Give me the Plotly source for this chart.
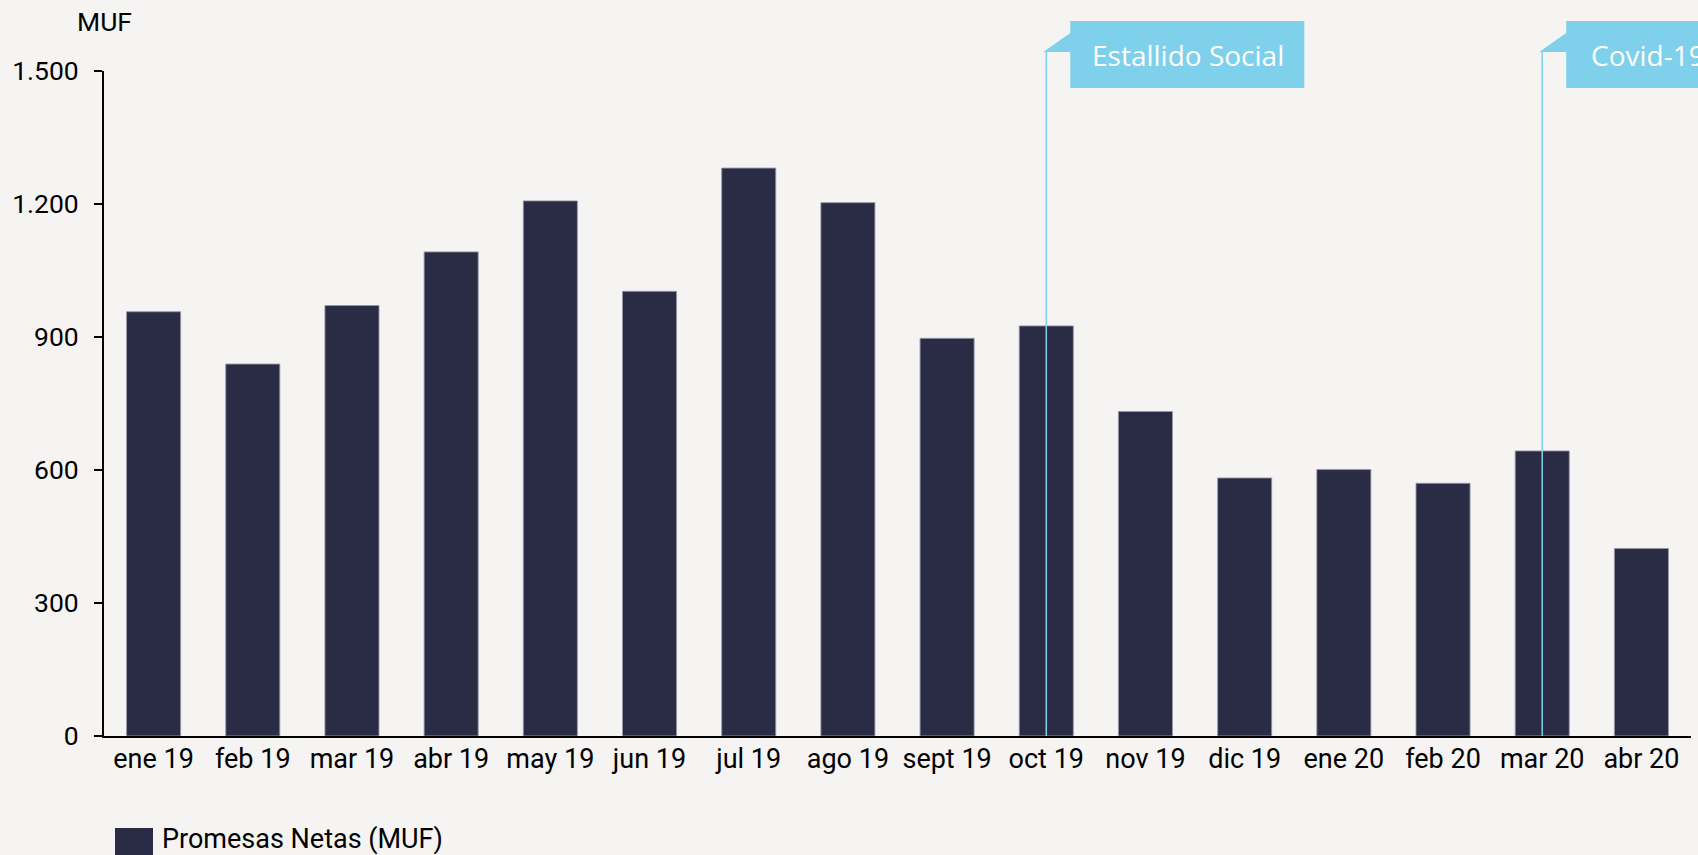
import plotly.graph_objects as go

# Monthly net sales promises, in thousands of UF
months = ["ene 19", "feb 19", "mar 19", "abr 19", "may 19", "jun 19", "jul 19", "ago 19",
          "sept 19", "oct 19", "nov 19", "dic 19", "ene 20", "feb 20", "mar 20", "abr 20"]
promesas = [957, 839, 971, 1092, 1207, 1003, 1281, 1203,
            897, 925, 732, 582, 601, 570, 643, 423]

# Events marked on the timeline
event_months = ["oct 19", "mar 20"]
event_labels = ["Estallido Social", "Covid-19"]

y_ticks = [0, 300, 600, 900, 1200, 1500]

W, H = 1698, 855
M_L, M_R, M_T, M_B = 104, 7, 71, 119
plot_h = H - M_T - M_B

BG = "#F5F4F2"
BAR = "#2A2B45"
CALLOUT = "#7FD0EA"
FONT = "Roboto"

fig = go.Figure()
fig.add_trace(go.Bar(
    x=months, y=promesas, name="Promesas Netas (MUF)",
    marker=dict(color=BAR, line=dict(color="rgba(150,150,168,0.9)", width=1)),
    showlegend=False, hoverinfo="x+y",
))

shapes = []
annotations = []

# Event callouts: vertical marker line plus a flag-shaped label box
for month, label, text_pad in zip(event_months, event_labels, [20, 23]):
    xc = (months.index(month) + 0.5) / len(months)
    shapes.append(dict(
        type="line", xref="paper", yref="paper",
        x0=xc, x1=xc, y0=0, y1=1 + 19 / plot_h,
        line=dict(color=CALLOUT, width=1.5), layer="above",
    ))
    left, right, tip = 24, 300 if label == "Covid-19" else 258, -3
    path = (f"M{left},50 L{right},50 L{right},-17 L{left},-17 "
            f"L{left},19 L{tip},19 L{left},38 Z")
    shapes.append(dict(
        type="path", xref="paper", yref="paper",
        xsizemode="pixel", xanchor=xc, ysizemode="pixel", yanchor=1,
        path=path, fillcolor=CALLOUT, line=dict(width=0), layer="above",
    ))
    annotations.append(dict(
        text=label, xref="paper", yref="paper", x=xc, y=1,
        xanchor="left", yanchor="middle",
        xshift=left + text_pad, yshift=16.5, showarrow=False,
        font=dict(family="Open Sans", size=28, color="white"),
    ))

# Unit label above the y axis
annotations.append(dict(
    text="MUF", xref="paper", yref="paper", x=0, y=1,
    xanchor="center", yanchor="middle", yshift=50, showarrow=False,
    font=dict(family=FONT, size=26.5, color="black"),
))

# Legend swatch and label below the chart
shapes.append(dict(
    type="rect", xref="paper", yref="paper",
    xsizemode="pixel", xanchor=0, ysizemode="pixel", yanchor=0,
    x0=11, x1=49, y0=-92, y1=-130,
    fillcolor=BAR, line=dict(width=0),
))
annotations.append(dict(
    text="Promesas Netas (MUF)", xref="paper", yref="paper", x=0, y=0,
    xanchor="left", yanchor="middle", xshift=56, yshift=-103, showarrow=False,
    font=dict(family=FONT, size=27, color="black"),
))

fig.update_layout(
    width=W, height=H,
    margin=dict(l=M_L, r=M_R, t=M_T, b=M_B, pad=0),
    paper_bgcolor=BG, plot_bgcolor=BG,
    font=dict(family=FONT, size=26, color="black"),
    separators=",.",
    bargap=0.455,
    shapes=shapes, annotations=annotations,
    xaxis=dict(
        type="category", showline=True, linecolor="black", linewidth=2,
        ticks="", showgrid=False, zeroline=False, ticklabelstandoff=-2,
        tickfont=dict(family=FONT, size=27, color="black"),
    ),
    yaxis=dict(
        range=[0, 1500], tickvals=y_ticks, tickformat=",d",
        showline=True, linecolor="black", linewidth=2,
        ticks="outside", ticklen=8, tickwidth=2, tickcolor="black",
        showgrid=False, zeroline=False, ticklabelstandoff=10,
        tickfont=dict(family=FONT, size=26.5, color="black"),
    ),
)

fig.write_html("out.html")
